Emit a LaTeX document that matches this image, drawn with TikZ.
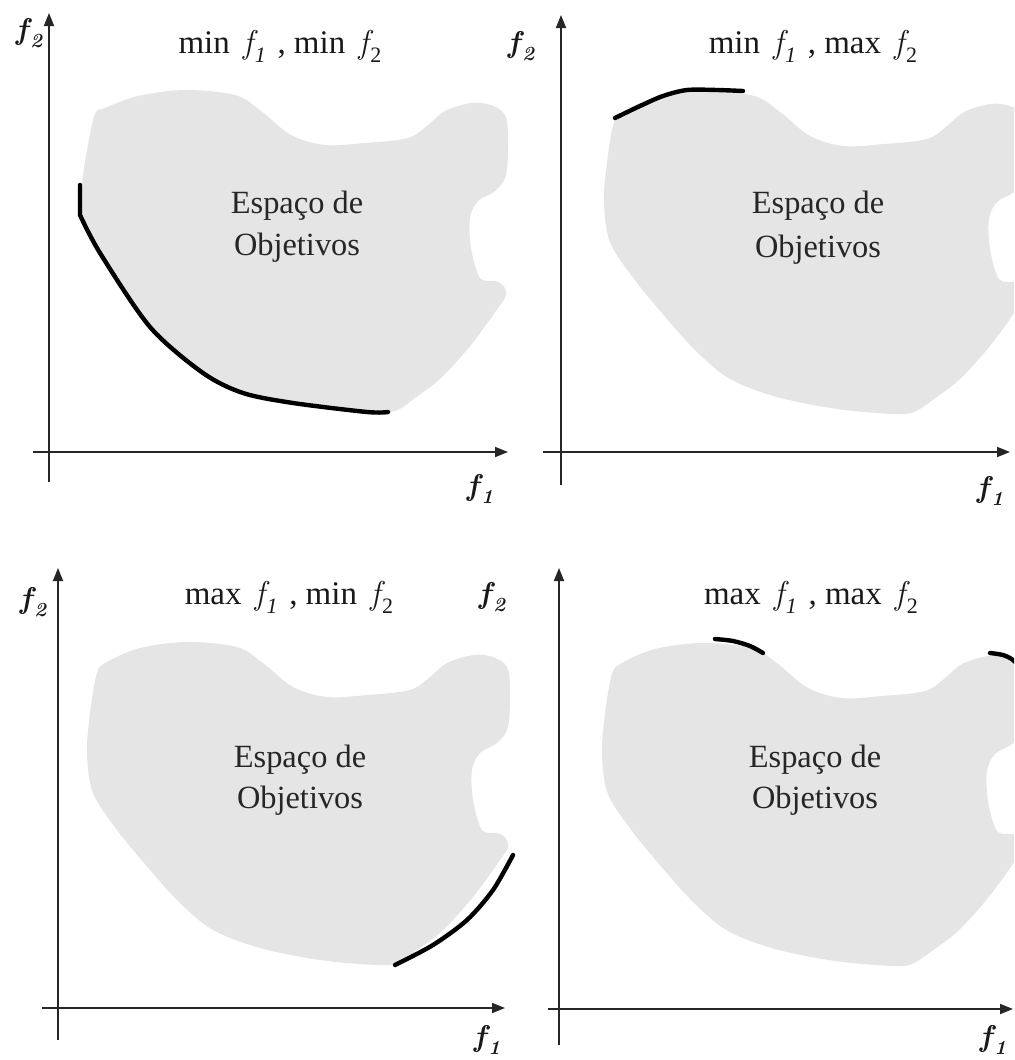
\documentclass[tikz,border=0pt]{standalone}
\usepackage{fontspec}
\setmainfont{Liberation Serif}
\newfontfamily\lmfont{Latin Modern Roman}
\usetikzlibrary{arrows.meta}
\newcommand\tf[1]{{\lmfont\itshape f}\kern1pt\raisebox{-4.8pt}{\fontsize{11}{11}\selectfont #1}}
\newcommand\af[1]{f\kern1.2pt\raisebox{-4pt}{\fontsize{10}{10}\selectfont #1}}
\newcommand\blobshape{\fill[region] plot[smooth cycle, tension=0.55] coordinates {
 (39,-335) (49,-346) (82,-360) (129,-366) (179,-361) (205,-345) (235,-321) (269,-311)
 (309,-313) (352,-318) (372,-331) (389,-345) (415,-353) (435,-351) (449,-341) (452,-318)
 (450,-281) (439,-265) (422,-255) (414,-238) (415,-208) (424,-178) (439,-175) (447,-171)
 (450,-161) (442,-148) (415,-111) (385,-78) (359,-58) (339,-45) (319,-43) (262,-48)
 (202,-60) (155,-78) (122,-105) (92,-138) (59,-178) (35,-215) (29,-255) (32,-295)};}
\begin{document}
\begin{tikzpicture}[x=0.5pt,y=-0.5pt,
  axis/.style={draw=black!85, line width=0.9pt, -{Triangle[length=6.5pt,width=5pt]}},
  pareto/.style={draw=black, line width=2.2pt, line cap=round},
  region/.style={fill=black!10},
  ttl/.style={font=\fontsize{16.5}{19}\selectfont, anchor=base, inner sep=0pt, text=black!90},
  body/.style={font=\fontsize{16.2}{19}\selectfont, anchor=base, inner sep=0pt, text=black!85},
  axlabel/.style={font=\lmfont\fontsize{15}{17}\selectfont\bfseries\itshape, inner sep=0pt, text=black!90}]
\useasboundingbox (0,0) rectangle (1014,1060);
\clip (0,0) rectangle (1014,1060);

% ---------- Panel 1: min f1, min f2
\begin{scope}[shift={(49,452)}]
 \fill[region] plot[smooth cycle, tension=0.55] coordinates {
 (46,-338) (56,-344) (89,-356) (136,-362) (186,-357) (212,-341) (242,-317) (276,-307)
 (316,-309) (359,-314) (379,-327) (396,-341) (422,-349) (442,-347) (456,-337) (459,-314)
 (457,-277) (446,-261) (429,-251) (421,-234) (422,-204) (431,-174) (446,-171) (454,-167)
 (457,-157) (449,-144) (422,-107) (392,-74) (366,-54) (346,-41) (318,-40) (244,-49)
 (194,-59) (154,-79) (101,-125) (51,-199) (33,-237) (33,-267) (38,-302)};
 \coordinate (a1yb) at (0,30); \coordinate (a1yt) at (0,-439);
 \coordinate (a1xl) at (-16,0); \coordinate (a1xr) at (459,0);
 \draw[axis] (a1yb) -- (a1yt);
 \draw[axis] (a1xl) -- (a1xr);
 \draw[pareto] (31,-267) -- (31,-237) plot[smooth, tension=0.5] coordinates
   {(31,-237) (51,-199) (101,-125) (154,-79) (194,-59) (244,-49) (318,-40) (339,-40)};
\end{scope}

% ---------- Panel 2: min f1, max f2
\begin{scope}[shift={(561,452)}]
 \begin{scope}[shift={(14,5)}] \blobshape \end{scope}
 \coordinate (a2yb) at (0,33); \coordinate (a2yt) at (0,-437);
 \coordinate (a2xl) at (-18,0); \coordinate (a2xr) at (449,0);
 \draw[axis] (a2yb) -- (a2yt);
 \draw[axis] (a2xl) -- (a2xr);
 \draw[pareto] plot[smooth] coordinates
   {(54,-334) (79,-346) (102,-356) (126,-362) (156,-362) (182,-361)};
\end{scope}

% ---------- Panel 3: max f1, min f2
\begin{scope}[shift={(58,1008)}]
 \blobshape
 \coordinate (a3yb) at (0,32); \coordinate (a3yt) at (0,-440);
 \coordinate (a3xl) at (-16,0); \coordinate (a3xr) at (447,0);
 \draw[axis] (a3yb) -- (a3yt);
 \draw[axis] (a3xl) -- (a3xr);
 \draw[pareto] plot[smooth] coordinates
   {(337,-43) (375,-63) (409,-88) (435,-118) (455,-153)};
\end{scope}

% ---------- Panel 4: max f1, max f2
\begin{scope}[shift={(559,1009)}]
 \begin{scope}[shift={(14,0)}] \blobshape \end{scope}
 \coordinate (a4yb) at (0,36); \coordinate (a4yt) at (0,-441);
 \coordinate (a4xl) at (-11,0); \coordinate (a4xr) at (454,0);
 \draw[axis] (a4yb) -- (a4yt);
 \draw[axis] (a4xl) -- (a4xr);
 \draw[pareto] plot[smooth] coordinates
   {(156,-370) (174,-368) (191,-363) (204,-356)};
 \draw[pareto] plot[smooth] coordinates
   {(431,-356) (444,-354) (454,-349) (463,-339) (470,-325)};
\end{scope}

% ---------- titles
\node[ttl] (t1) at (280,53) {min\hspace{0.4em}\tf{\textit{1}}\hspace{0.35em}, min\hspace{0.4em}\tf{2}};
\node[ttl] (t2) at (813,53) {min\hspace{0.4em}\tf{\textit{1}}\hspace{0.35em}, max\hspace{0.4em}\tf{2}};
\node[ttl] (t3) at (289,604) {max\hspace{0.4em}\tf{\textit{1}}\hspace{0.35em}, min\hspace{0.4em}\tf{2}};
\node[ttl] (t4) at (811,604) {max\hspace{0.4em}\tf{\textit{1}}\hspace{0.35em}, max\hspace{0.4em}\tf{2}};

% ---------- region texts
\node[body] (e1) at (297,213) {Espaço de};
\node[body] (o1) at (297,255) {Objetivos};
\node[body] (e2) at (818,213) {Espaço de};
\node[body] (o2) at (818,257) {Objetivos};
\node[body] (e3) at (300,767) {Espaço de};
\node[body] (o3) at (300,808) {Objetivos};
\node[body] (e4) at (815,767) {Espaço de};
\node[body] (o4) at (815,808) {Objetivos};

% ---------- axis labels
\node[axlabel] (l1y) at (29,33) {\af{2}};
\node[axlabel] (l1x) at (480,489) {\af{1}};
\node[axlabel] (l2y) at (521,46) {\af{2}};
\node[axlabel] (l2x) at (990,491) {\af{1}};
\node[axlabel] (l3y) at (33,602) {\af{2}};
\node[axlabel] (l3x) at (487,1040) {\af{1}};
\node[axlabel] (l4y) at (492,597) {\af{2}};
\node[axlabel] (l4x) at (993,1040) {\af{1}};
\end{tikzpicture}
\end{document}
